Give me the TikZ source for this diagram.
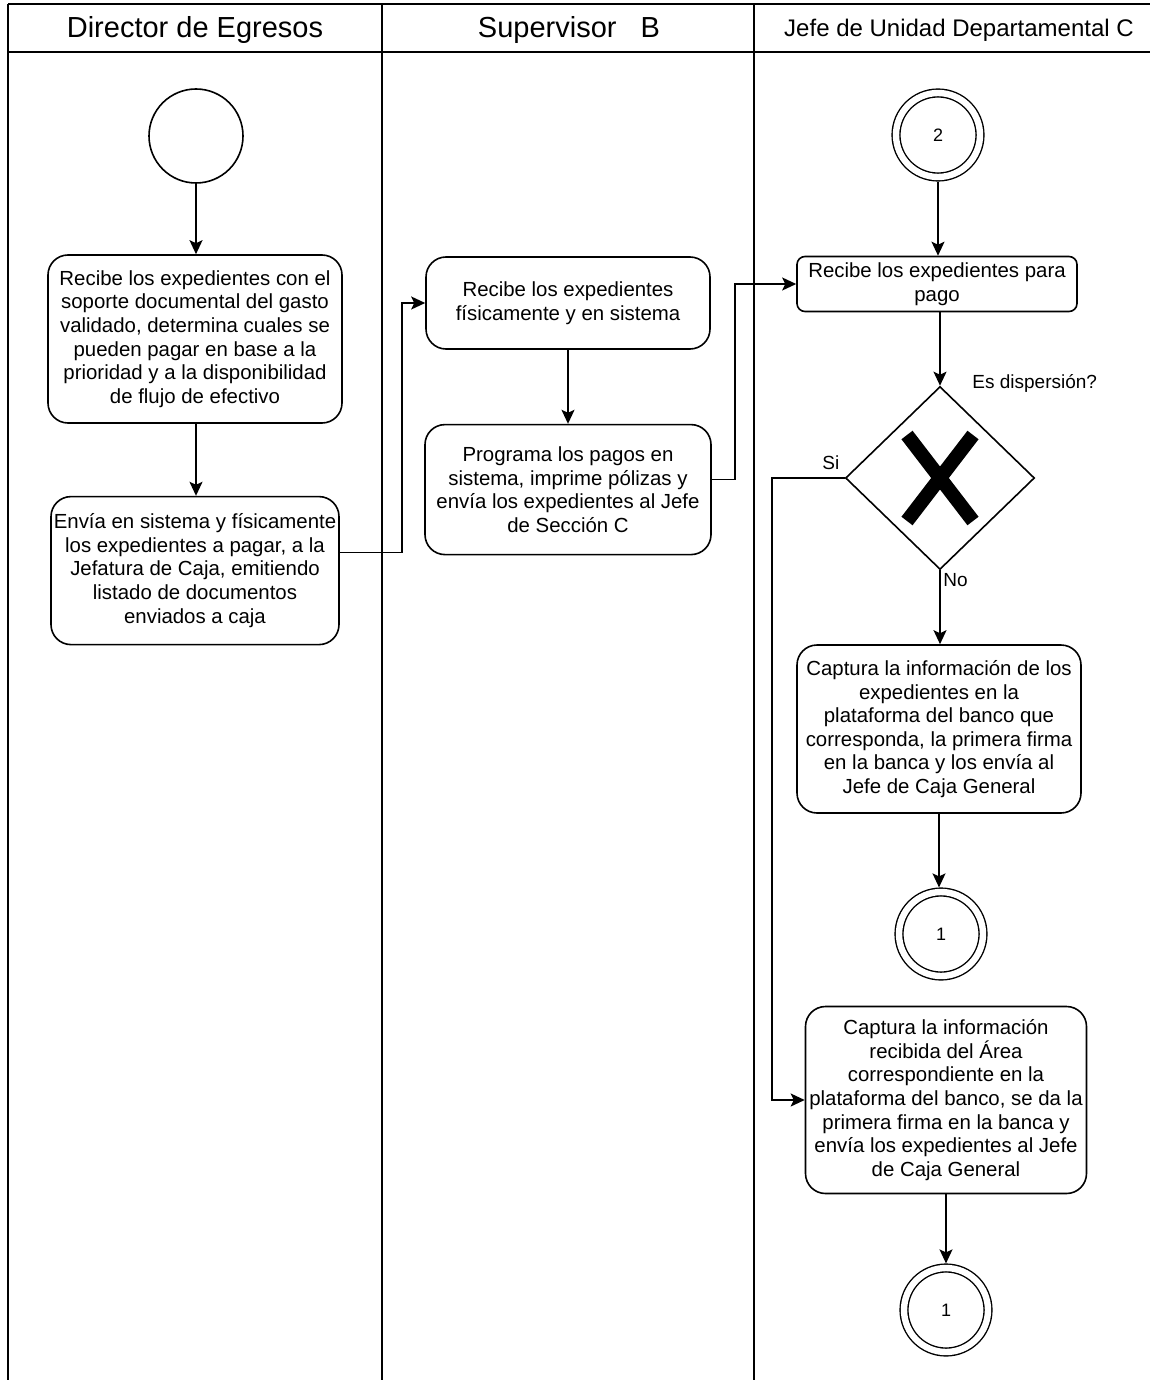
\documentclass[tikz,border=0pt]{standalone}
\usepackage{fontspec}
\setmainfont{Liberation Sans}
\usetikzlibrary{positioning,arrows.meta,calc,shapes.geometric}

\begin{document}
\begin{tikzpicture}[
    x=0.5pt, y=-0.5pt,
    node distance=37pt,
    every node/.style={font=\fontsize{10.2}{11.8}\selectfont},
    lane/.style={line width=0.8pt},
    lanehead/.style={font=\fontsize{14.5}{16}\selectfont},
    task/.style={draw, line width=0.8pt, rounded corners=10pt, align=center, inner sep=1pt},
    startev/.style={draw, circle, line width=0.8pt, minimum size=47pt, inner sep=0pt},
    linkev/.style={draw, circle, double, double distance=3.2pt, line width=0.7pt, minimum size=42pt, inner sep=0pt, outer sep=2.3pt, font=\fontsize{9}{10}\selectfont},
    gate/.style={draw, diamond, line width=0.8pt, minimum width=94.5pt, minimum height=91.5pt, inner sep=0pt},
    arr/.style={-{Stealth[length=7pt,width=6.5pt,inset=1.5pt]}, line width=0.8pt},
    lbl/.style={font=\fontsize{9.5}{11}\selectfont, inner sep=0pt}
]
\useasboundingbox (0,0) rectangle (1150,1380);

% Pool and lanes
\draw[lane] (8,4) -- (1150,4);
\draw[lane] (8,52) -- (1150,52);
\draw[lane] (8,4) -- (8,1380);
\draw[lane] (382,4) -- (382,1380);
\draw[lane] (754,4) -- (754,1380);

\node[lanehead] (hdA) at (195,30) {Director de Egresos};
\node[lanehead] (hdB) at (569,30) {Supervisor~~~B};
\node[font=\fontsize{12}{13}\selectfont] (hdC) at (959,30) {Jefe de Unidad Departamental C};

% Director de Egresos
\node[startev] (st) at (196,136) {};
\node[task, minimum width=147pt, minimum height=84pt] (r1) at (195,339)
    {Recibe los expedientes con el\\soporte documental del gasto\\validado, determina cuales se\\pueden pagar en base a la\\prioridad y a la disponibilidad\\de flujo de efectivo};
\node[task, minimum width=144pt, minimum height=74pt, below=36pt of r1] (r2)
    {Envía en sistema y físicamente\\los expedientes a pagar, a la\\Jefatura de Caja, emitiendo\\listado de documentos\\enviados a caja};

% Supervisor B
\node[task, minimum width=142pt, minimum height=46pt] (r3) at (568,303)
    {Recibe los expedientes\\físicamente y en sistema};
\node[task, minimum width=143pt, minimum height=65pt, below=37pt of r3] (r4)
    {Programa los pagos en\\sistema, imprime pólizas y\\envía los expedientes al Jefe\\de Sección C};

% Jefe de Unidad Departamental C
\node[linkev] (c2) at (938,135) {2};
\node[task, rounded corners=4pt, minimum width=140pt, minimum height=27.5pt] (r5) at (937,284)
    {Recibe los expedientes para\\pago};
\node[gate] (gw) at (940,478) {};
\draw[line width=7pt] ($(gw)+(-33,-43)$) -- ($(gw)+(33,43)$);
\draw[line width=7pt] ($(gw)+(33,-43)$) -- ($(gw)+(-33,43)$);
\node[lbl, anchor=west] (q) at ($(gw.north)+(32,-2)$) {Es dispersión?};
\node[task, minimum width=142pt, minimum height=84pt] (r6) at (939,729)
    {Captura la información de los\\expedientes en la\\plataforma del banco que\\corresponda, la primera firma\\en la banca y los envía al\\Jefe de Caja General};
\node[linkev] (c1a) at (941,934) {1};
\node[task, minimum width=140.5pt, minimum height=93.5pt] (r7) at (946,1100)
    {Captura la información\\recibida del Área\\correspondiente en la\\plataforma del banco, se da la\\primera firma en la banca y\\envía los expedientes al Jefe\\de Caja General};
\node[linkev] (c1b) at (946,1310) {1};

% Flows
\draw[arr] (st) -- (st |- r1.north);
\draw[arr] (r1.south -| st) -- (st |- r2.north);
\draw[arr] ($(r2.east)+(0,-18)$) -- ++(62,0) |- (r3.west);
\draw[arr] (r3) -- (r4);
\draw[arr] ($(r4.east)+(0,-10)$) -- ++(23,0) |- (r5.west);
\draw[arr] (c2) -- (c2 |- r5.north);
\draw[arr] (gw.north |- r5.south) -- (gw.north);
\draw[arr] (gw.south) -- (gw.south |- r6.north);
\node[lbl, anchor=west] (no) at ($(gw.south)+(3,10)$) {No};
\draw[arr] (gw.west) -- ++(-73,0) |- (r7.west);
\node[lbl, anchor=south east] (si) at ($(gw.west)+(-5,-8)$) {Si};
\draw[arr] (r6.south) -- (r6.south |- c1a.north);
\draw[arr] (r7.south) -- (r7.south |- c1b.north);
\end{tikzpicture}
\end{document}
